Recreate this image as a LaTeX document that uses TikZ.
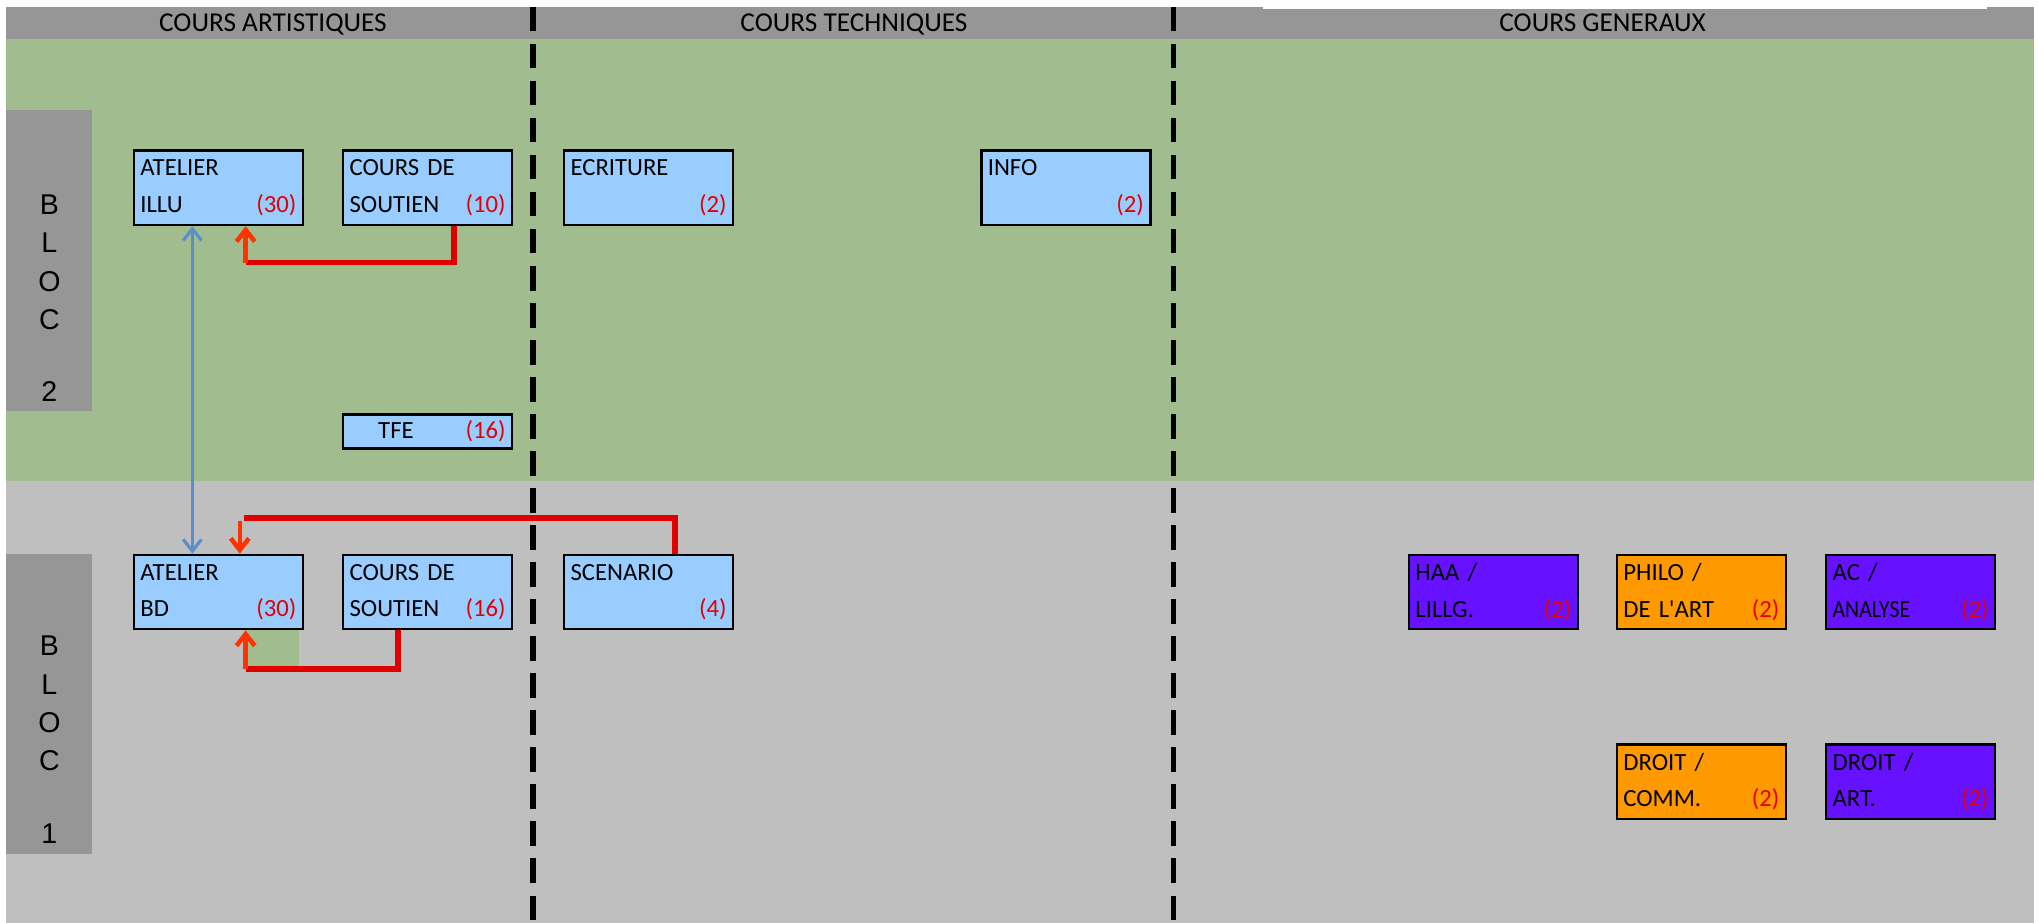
\documentclass[tikz,border=0pt]{standalone}
\usepackage{fontspec}
\setmainfont{Carlito}
\newfontfamily\blocfont{Liberation Sans}
\usetikzlibrary{arrows.meta}

\definecolor{vertfond}{RGB}{161,189,143}
\definecolor{grisfond}{RGB}{191,191,191}
\definecolor{grisbloc}{RGB}{150,150,150}
\definecolor{bleucours}{RGB}{153,204,255}
\definecolor{violetcours}{RGB}{102,17,255}
\definecolor{orangecours}{RGB}{255,153,0}
\definecolor{rougelien}{RGB}{224,0,0}
\definecolor{rougefleche}{RGB}{255,51,0}
\definecolor{rougenb}{RGB}{228,0,0}
\definecolor{bleufleche}{RGB}{91,143,201}

\newcommand{\nb}[1]{\hfill\textcolor{rougenb}{(#1)}}

\tikzset{every picture/.style={line width=0.75pt}}

\begin{document}
\begin{tikzpicture}[x=1pt,y=-1pt,
	cours/.style={draw,line width=2pt,fill=bleucours,anchor=north west,minimum width=130pt,minimum height=57pt,text width=120pt,inner xsep=5pt,inner ysep=0pt,align=left,font=\fontsize{19}{22.5}\selectfont},
	titre/.style={anchor=base,font=\fontsize{21}{24}\selectfont},
	bloc/.style={anchor=north,inner sep=0pt,align=center,font=\blocfont\fontsize{22}{29.5}\selectfont},
	separation/.style={line width=4pt,dash pattern=on 19pt off 9.5pt},
	lien/.style={rougelien,line width=4.5pt},
	fleche/.style={rougefleche,line width=3.5pt,-{Straight Barb[length=9pt,width=14pt]}},
	lienbleu/.style={bleufleche,line width=2.5pt,{Straight Barb[length=9pt,width=14pt]}-{Straight Barb[length=9pt,width=14pt]}}]
	\fill[white] (0,0) rectangle (1568,710);
	\useasboundingbox (0,0) rectangle (1568,710);
	%Fond
	\fill[grisbloc] (5,5) rectangle (1565,30);
	\fill[white] (972,5) rectangle (1529,7);
	\fill[vertfond] (5,30) rectangle (1565,370);
	\fill[grisfond] (5,370) rectangle (1565,710);
	%Titres
	\node[titre] (art) at (210,24) {COURS ARTISTIQUES};
	\node[titre] (tech) at (657,24) {COURS TECHNIQUES};
	\node[titre] (gen) at (1233,24) {COURS GENERAUX};
	%Separations
	\draw[separation] (410,5) -- (410,710);
	\draw[separation] (903,5) -- (903,710);
	%Bloc 2
	\fill[grisbloc] (5,85) rectangle (71,316);
	\node[bloc] (bloc2) at (38,149.5) {B\\L\\O\\C\\[26pt]2};
	%Bloc 1
	\fill[grisbloc] (5,426) rectangle (71,657);
	\node[bloc] (bloc1) at (38,489) {B\\L\\O\\C\\[26.5pt]1};
	%Cours bloc 2
	\node[cours] (illu) at (102,115) {ATELIER\\[5.5pt]ILLU\nb{30}};
	\node[cours] (soutien2) at (263,115) {COURS DE\\[5.5pt]SOUTIEN\nb{10}};
	\node[cours] (ecriture) at (433,115) {ECRITURE\\[5.5pt]\mbox{}\nb{2}};
	\node[cours] (info) at (754,115) {INFO\\[5.5pt]\mbox{}\nb{2}};
	\node[cours,minimum height=26pt] (tfe) at (263,318) {\hspace*{22pt}TFE\nb{16}};
	%Cours bloc 1
	\fill[vertfond] (188,484) rectangle (230,513);
	\node[cours] (bd) at (102,426) {ATELIER\\[5.5pt]BD\nb{30}};
	\node[cours] (soutien1) at (263,426) {COURS DE\\[5.5pt]SOUTIEN\nb{16}};
	\node[cours] (scenario) at (433,426) {SCENARIO\\[5.5pt]\mbox{}\nb{4}};
	%Cours generaux
	\node[cours,fill=violetcours] (haa) at (1083,426) {HAA /\\[5.5pt]LILLG.\nb{2}};
	\node[cours,fill=orangecours] (philo) at (1243,426) {PHILO /\\[5.5pt]DE L\textquotesingle ART\nb{2}};
	\node[cours,fill=violetcours] (ac) at (1404,426) {AC /\\[5.5pt]\scalebox{0.88}[1]{ANALYSE}\nb{2}};
	\node[cours,fill=orangecours] (comm) at (1243,572) {DROIT /\\[5.5pt]COMM.\nb{2}};
	\node[cours,fill=violetcours] (droitart) at (1404,572) {DROIT /\\[5.5pt]ART.\nb{2}};
	%Liens
	\draw[lienbleu] ([xshift=-20pt]illu.south) -- ([xshift=-20pt]bd.north);
	\coordinate (k1) at (189,202);
	\draw[lien] ([xshift=20pt]soutien2.south) |- (k1);
	\draw[fleche] (k1) -- (illu.south -| k1);
	\coordinate (k2) at (188,398.5);
	\draw[lien] ([xshift=20pt]scenario.north) |- (k2);
	\coordinate (k3) at (184.5,401);
	\draw[fleche] (k3) -- (bd.north -| k3);
	\coordinate (k4) at (189,515);
	\draw[lien] ([xshift=-23pt]soutien1.south) |- (k4);
	\draw[fleche] (k4) -- (bd.south -| k4);
\end{tikzpicture}
\end{document}
